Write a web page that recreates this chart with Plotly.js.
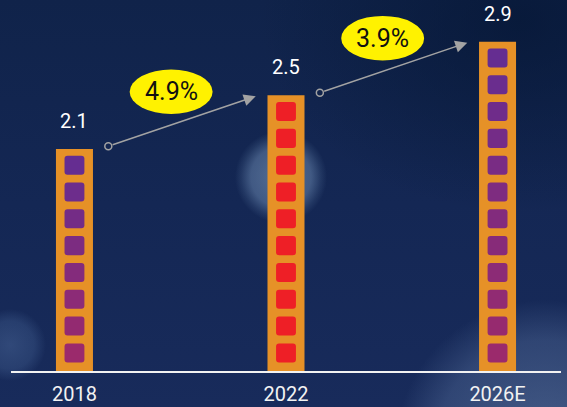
<!DOCTYPE html>
<html>
<head>
<meta charset="utf-8">
<script src="https://cdn.plot.ly/plotly-3.0.1.min.js"></script>
<style>
  html, body { margin: 0; padding: 0; }
  #wrap {
    position: relative; width: 567px; height: 407px; overflow: hidden;
    background:
      radial-gradient(circle at 281px 177px, rgba(130,160,195,0.6) 0px, rgba(110,140,180,0.5) 30px, rgba(90,120,160,0.2) 40px, rgba(60,90,130,0) 46px),
      radial-gradient(circle at 10px 345px, rgba(80,110,160,0.45) 0px, rgba(70,100,150,0.35) 24px, rgba(60,90,140,0) 36px),
      radial-gradient(circle at 545px 450px, rgba(100,125,165,0.6) 0px, rgba(85,110,155,0.4) 110px, rgba(60,90,140,0) 150px),
      radial-gradient(ellipse at 520px 20px, rgba(5,22,52,0.7) 0px, rgba(5,22,52,0) 260px),
      linear-gradient(to bottom, #10234a 0%, #142754 50%, #182b5b 100%), #132650;
  }
  #chart { position: absolute; left: 0; top: 0; width: 567px; height: 407px; }
</style>
</head>
<body>
<div id="wrap"><div id="chart"></div></div>
<script>
// ---- data ----
const categories = ["2018", "2022", "2026E"];
const values = [2.1, 2.5, 2.9];
const growthLabels = ["4.9%", "3.9%"];
const squareStyle = ["purple", "red", "purple"];

// ---- styles ----
const barColor = "#e69127";
const redSq = "#ee1f26";
const purpleTop = [101, 45, 145];
const purpleBot = [155, 42, 108];
const yMin = 0.444, yMax = 3.211;
const xMin = -0.3, xMax = 2.3;
const idx = categories.map((c, i) => i);

function mix(a, b, t) {
  const c = a.map((v, j) => Math.round(v + (b[j] - v) * t));
  return "rgb(" + c.join(",") + ")";
}

const shapes = [];
// inner rounded squares, derived from each bar's value
const sqHalfW = 0.047, sqH = 0.142, pitch = 0.2, topGap = 0.05;
const rx = 0.0142, ry = 0.0224;
idx.forEach(i => {
  const v = values[i];
  const tops = [];
  for (let k = 0; ; k++) {
    const t = v - topGap - pitch * k;
    if (t - sqH < yMin - 1e-6) break;
    tops.push(t);
  }
  const n = tops.length;
  tops.forEach((t, k) => {
    const b = t - sqH, l = i - sqHalfW, r = i + sqHalfW;
    const col = squareStyle[i] === "red" ? redSq : mix(purpleTop, purpleBot, n > 1 ? k / (n - 1) : 0);
    const path = `M ${l + rx},${t} L ${r - rx},${t} Q ${r},${t} ${r},${t - ry} L ${r},${b + ry} Q ${r},${b} ${r - rx},${b} L ${l + rx},${b} Q ${l},${b} ${l},${b + ry} L ${l},${t - ry} Q ${l},${t} ${l + rx},${t} Z`;
    shapes.push({ type: "path", xref: "x", yref: "y", path: path, fillcolor: col, line: { width: 0 }, layer: "above" });
  });
});

const annotations = [];
// value labels above bars
idx.forEach(i => {
  annotations.push({
    x: i, y: values[i], xref: "x", yref: "y", text: values[i].toFixed(1),
    showarrow: false, yanchor: "middle", yshift: 28,
    font: { family: "Roboto", size: 20, color: "#ffffff" }
  });
});

// growth arrows and ellipses
const tailX = [], tailY = [];
growthLabels.forEach((g, j) => {
  const x0 = j + 0.16, y0 = values[j] + 0.02;
  const x1 = j + 1 - 0.143, y1 = values[j + 1] - 0.007;
  tailX.push(x0); tailY.push(y0);
  annotations.push({
    x: x1, y: y1, ax: x0, ay: y0, xref: "x", yref: "y", axref: "x", ayref: "y",
    text: "", showarrow: true, arrowhead: 2, arrowsize: 1.6, arrowwidth: 1.5,
    arrowcolor: "#a3a3a3", standoff: 0, startstandoff: 3
  });
  const cx = j + 0.457, cy = (y0 + y1) / 2 + 0.22;
  shapes.push({
    type: "circle", xref: "x", yref: "y",
    x0: cx - 0.196, x1: cx + 0.196, y0: cy - 0.166, y1: cy + 0.166,
    fillcolor: "#fff200", line: { width: 0 }, layer: "above"
  });
  annotations.push({
    x: cx, y: cy, xref: "x", yref: "y", text: g, showarrow: false,
    font: { family: "Roboto", size: 25, color: "#111111" }
  });
});

const traces = [
  {
    type: "bar", x: idx, y: values, width: 0.175,
    marker: { color: barColor, line: { width: 0 } },
    hoverinfo: "skip"
  },
  {
    type: "scatter", mode: "markers", x: tailX, y: tailY,
    marker: { symbol: "circle-open", size: 7, color: "#a3a3a3", line: { width: 1.5, color: "#a3a3a3" } },
    hoverinfo: "skip"
  }
];

const layout = {
  width: 567, height: 407,
  margin: { l: 11, r: 6, t: 0, b: 36 },
  paper_bgcolor: "rgba(0,0,0,0)", plot_bgcolor: "rgba(0,0,0,0)",
  showlegend: false,
  xaxis: {
    type: "linear", range: [xMin, xMax], tickvals: idx, ticktext: categories,
    showgrid: false, zeroline: false, showline: true, linecolor: "#f2f2f2", linewidth: 2,
    ticks: "", ticklabelstandoff: 4, tickfont: { family: "Roboto", size: 20, color: "#f2f2f2" }, fixedrange: true
  },
  yaxis: {
    range: [yMin, yMax], visible: false, showgrid: false, zeroline: false, fixedrange: true
  },
  shapes: shapes,
  annotations: annotations
};

Plotly.newPlot("chart", traces, layout, { displayModeBar: false, staticPlot: true });
</script>
</body>
</html>
